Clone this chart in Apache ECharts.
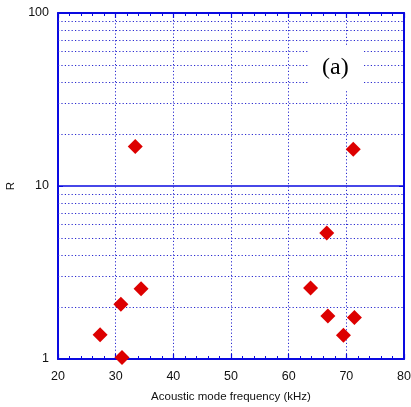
<!DOCTYPE html>
<html><head><meta charset="utf-8">
<script src="https://cdn.jsdelivr.net/npm/echarts@6/dist/echarts.min.js"></script>
<style>html,body{margin:0;padding:0;background:#fff}#c{width:411px;height:407px}</style>
</head><body><div id="c"></div>
<script>
const freq = [27.3, 30.9, 31.1, 33.4, 34.4, 63.8, 66.6, 66.8, 69.5, 71.2, 71.4];
const ratio = [1.38, 2.07, 1.02, 16.9, 2.55, 2.57, 5.35, 1.77, 1.37, 16.3, 1.74];
const minorGridY = [2,3,4,5,6,7,8,9,20,30,40,50,60,70,80,90];
const xLabel = 'Acoustic mode frequency (kHz)';
const yLabel = 'R';
const panelTag = '(a)';

const blue = '#0a0ae0';
const dotStyle = {color: '#2a2ad0', width: 1, type: [1.2, 2.2]};
const chart = echarts.init(document.getElementById('c'), null, {renderer: 'canvas'});
const xCommon = {type: 'value', min: 20, max: 80, interval: 10,
  axisLine: {show: true, lineStyle: {color: blue, width: 2}},
  axisTick: {show: true, inside: true, length: 5, lineStyle: {color: blue, width: 1.2}},
  minorTick: {show: true, splitNumber: 5, length: 3, lineStyle: {color: blue, width: 1}}};
chart.setOption({
  animation: false,
  grid: {left: 58, right: 7, top: 13, bottom: 48, containLabel: false, outerBoundsMode: 'none'},
  xAxis: [
    Object.assign({}, xCommon, {position: 'bottom',
      name: xLabel, nameLocation: 'middle', nameGap: 32,
      nameTextStyle: {fontFamily: 'Liberation Sans', fontSize: 11.5, color: '#111'},
      axisLabel: {fontFamily: 'Liberation Sans', fontSize: 12.5, color: '#111', margin: 11},
      splitLine: {show: true, lineStyle: dotStyle}}),
    Object.assign({}, xCommon, {position: 'top', axisLabel: {show: false}, splitLine: {show: false}})
  ],
  yAxis: [
    {type: 'log', logBase: 10, min: 1, max: 100, position: 'left',
      name: yLabel, nameLocation: 'middle', nameGap: 41,
      nameTextStyle: {fontFamily: 'Liberation Sans', fontSize: 11.5, color: '#111'},
      axisLine: {show: true, lineStyle: {color: blue, width: 2}},
      axisTick: {show: true, inside: true, length: 5, lineStyle: {color: blue}},
      axisLabel: {fontFamily: 'Liberation Sans', fontSize: 12.5, color: '#111', margin: 9},
      splitLine: {show: true, lineStyle: {color: blue, width: 1.5}}},
    {type: 'log', logBase: 10, min: 1, max: 100, position: 'right',
      axisLine: {show: true, lineStyle: {color: blue, width: 2}},
      axisTick: {show: true, inside: true, length: 5, lineStyle: {color: blue}},
      axisLabel: {show: false}, splitLine: {show: false}}
  ],
  series: [{
    type: 'scatter', xAxisIndex: 0, yAxisIndex: 0,
    data: freq.map((f, i) => [f, ratio[i]]),
    symbol: 'diamond', symbolSize: 15,
    itemStyle: {color: '#dd0000', opacity: 1}, z: 5,
    markLine: {silent: true, symbol: 'none', label: {show: false},
      lineStyle: dotStyle, z: 1,
      data: minorGridY.map(v => ({yAxis: v}))}
  }],
  graphic: [{type: 'text', left: 308, top: 46, z: 10,
    style: {text: panelTag, font: '24px "Liberation Serif"', fill: '#000',
      backgroundColor: '#fff', padding: [10, 14, 10, 14]}}]
});
</script></body></html>
